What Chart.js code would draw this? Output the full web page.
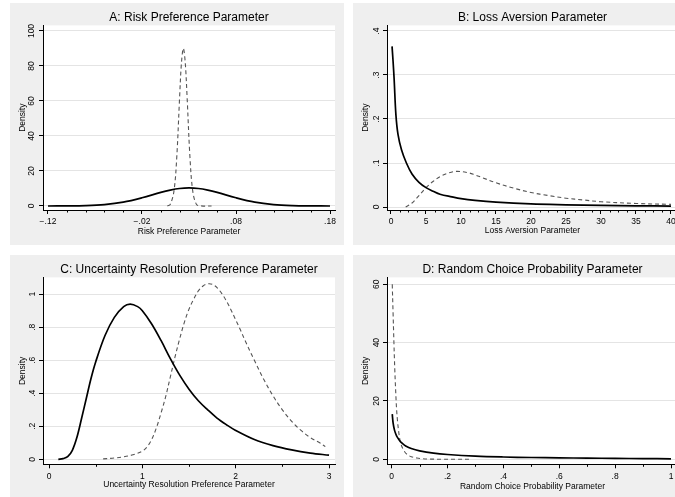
<!DOCTYPE html>
<html lang="en">
<head>
<meta charset="UTF-8">
<title>Parameter densities</title>
<script src="https://cdn.jsdelivr.net/npm/chart.js@4.4.1/dist/chart.umd.min.js"></script>
<style>
  html, body { margin: 0; padding: 0; background: #fff; }
  body { width: 675px; height: 497px; overflow: hidden; position: relative; }
  .panel { position: absolute; width: 334px; height: 242px; background: #efefef; }
  .panel canvas { display: block; }
</style>
</head>
<body>
<div class="panel" style="left:10px; top:3px"><canvas id="chartA" width="334" height="242"></canvas></div>
<div class="panel" style="left:353px; top:3px"><canvas id="chartB" width="334" height="242"></canvas></div>
<div class="panel" style="left:10px; top:255px"><canvas id="chartC" width="334" height="242"></canvas></div>
<div class="panel" style="left:353px; top:255px"><canvas id="chartD" width="334" height="242"></canvas></div>

<script>
// A: Risk preference
const aSolidX = [-0.12, -0.10, -0.08, -0.06, -0.04, -0.02, 0.00, 0.01, 0.02, 0.03, 0.04, 0.05, 0.06, 0.08, 0.10, 0.12, 0.14, 0.16, 0.18];
const aSolidY = [0.01, 0.05, 0.23, 0.82, 2.2, 4.7, 7.8, 9.1, 10.0, 10.3, 10.0, 9.1, 7.8, 4.7, 2.2, 0.82, 0.23, 0.05, 0.01];
const aDashX = [0.007, 0.010, 0.014, 0.017, 0.020, 0.022, 0.024, 0.026, 0.028, 0.031, 0.034, 0.038, 0.043, 0.054];
const aDashY = [0, 0.9, 8.5, 28, 62, 82, 90, 82, 62, 28, 8.5, 0.9, 0.05, 0];
const aXTicks = [-0.12, -0.02, 0.08, 0.18];
const aXLabels = ['\u2212.12', '\u2212.02', '.08', '.18'];
const aXMinor = [-0.10, -0.08, -0.06, -0.04, 0, 0.02, 0.04, 0.06, 0.10, 0.12, 0.14, 0.16];
const aYTicks = [0, 20, 40, 60, 80, 100];
const aYLabels = ['0', '20', '40', '60', '80', '100'];

// B: Loss aversion
const bSolidX = [0.15, 0.3, 0.45, 0.7, 1.0, 1.5, 2.2, 3, 4, 5, 6, 7, 8.7, 10, 12, 15, 20, 25, 30, 35, 40];
const bSolidY = [0.365, 0.33, 0.29, 0.21, 0.165, 0.13, 0.1, 0.075, 0.056, 0.044, 0.036, 0.029, 0.023, 0.019, 0.015, 0.011, 0.007, 0.005, 0.0035, 0.0028, 0.0022];
const bDashX = [2.1, 3, 3.5, 4, 5, 6, 7, 8, 9.3, 11, 12, 13, 15, 17.5, 20, 22.5, 25, 27.5, 30, 35, 40];
const bDashY = [0, 0.009, 0.017, 0.026, 0.044, 0.058, 0.069, 0.076, 0.081, 0.078, 0.073, 0.067, 0.055, 0.043, 0.033, 0.026, 0.020, 0.016, 0.012, 0.008, 0.006];
const bXTicks = [0, 5, 10, 15, 20, 25, 30, 35, 40];
const bXLabels = ['0', '5', '10', '15', '20', '25', '30', '35', '40'];
const bXMinor = [1.25, 2.5, 3.75, 6.25, 7.5, 8.75, 11.25, 12.5, 13.75, 16.25, 17.5, 18.75, 21.25, 22.5, 23.75,
                 26.25, 27.5, 28.75, 31.25, 32.5, 33.75, 36.25, 37.5, 38.75];
const bYTicks = [0, 0.1, 0.2, 0.3, 0.4];
const bYLabels = ['0', '.1', '.2', '.3', '.4'];

// C: Uncertainty resolution preference
const cSolidX = [0.1, 0.15, 0.2, 0.25, 0.3, 0.35, 0.4, 0.45, 0.5, 0.6, 0.7, 0.8, 0.87, 0.95, 1.0, 1.1, 1.2, 1.3, 1.4, 1.5, 1.6, 1.7, 1.8, 1.9, 2.0, 2.2, 2.4, 2.6, 2.8, 3.0];
const cSolidY = [0.0, 0.004, 0.016, 0.055, 0.135, 0.25, 0.37, 0.49, 0.59, 0.75, 0.86, 0.925, 0.94, 0.925, 0.9, 0.82, 0.72, 0.61, 0.51, 0.425, 0.355, 0.3, 0.25, 0.21, 0.175, 0.12, 0.083, 0.057, 0.038, 0.025];
const cDashX = [0.58, 0.7, 0.8, 0.9, 1.0, 1.05, 1.1, 1.15, 1.2, 1.25, 1.3, 1.35, 1.4, 1.45, 1.5, 1.55, 1.6, 1.65, 1.7, 1.75, 1.8, 1.85, 1.9, 1.95, 2.0, 2.05, 2.1, 2.2, 2.3, 2.4, 2.5, 2.6, 2.7, 2.8, 2.9, 2.96];
const cDashY = [0.003, 0.008, 0.015, 0.028, 0.05, 0.075, 0.12, 0.19, 0.28, 0.38, 0.5, 0.62, 0.73, 0.83, 0.91, 0.97, 1.02, 1.05, 1.063, 1.06, 1.04, 1.005, 0.96, 0.905, 0.845, 0.785, 0.72, 0.6, 0.485, 0.385, 0.3, 0.23, 0.175, 0.132, 0.1, 0.077];
const cXTicks = [0, 1, 2, 3];
const cXLabels = ['0', '1', '2', '3'];
const cXMinor = [0.5, 1.5, 2.5];
const cYTicks = [0, 0.2, 0.4, 0.6, 0.8, 1];
const cYLabels = ['0', '.2', '.4', '.6', '.8', '1'];

// D: Random choice probability
const dSolidX = [0.002, 0.005, 0.01, 0.015, 0.02, 0.03, 0.04, 0.05, 0.07, 0.1, 0.15, 0.2, 0.3, 0.4, 0.5, 0.6, 0.7, 0.8, 0.9, 1.0];
const dSolidY = [15.5, 12.5, 10, 8.6, 7.6, 6.2, 5.3, 4.6, 3.7, 2.9, 2.1, 1.65, 1.1, 0.8, 0.62, 0.5, 0.4, 0.32, 0.25, 0.18];
const dDashX = [0.002, 0.005, 0.008, 0.011, 0.014, 0.017, 0.02, 0.025, 0.03, 0.036, 0.045, 0.055, 0.07, 0.09, 0.11, 0.14, 0.18, 0.23, 0.284];
const dDashY = [60, 50, 40, 31, 24, 18, 14, 9.5, 6.5, 4.5, 2.8, 1.7, 0.9, 0.45, 0.22, 0.08, 0.03, 0.01, 0];
const dXTicks = [0, 0.2, 0.4, 0.6, 0.8, 1];
const dXLabels = ['0', '.2', '.4', '.6', '.8', '1'];
const dXMinor = [0.1, 0.3, 0.5, 0.7, 0.9];
const dYTicks = [0, 20, 40, 60];
const dYLabels = ['0', '20', '40', '60'];

const FONT = 'Liberation Sans, Arial, Helvetica, sans-serif';

function pts(xs, ys) {
  return xs.map((x, i) => ({ x: x, y: ys[i] }));
}

// white plot region on the gray graph region
const plotBg = {
  id: 'plotBg',
  beforeDraw(chart) {
    const a = chart.chartArea, ctx = chart.ctx;
    ctx.save();
    ctx.fillStyle = '#fff';
    ctx.fillRect(a.left, a.top, a.right - a.left, a.bottom - a.top);
    ctx.restore();
  }
};

// short unlabeled ticks on the x axis
const minorTicks = {
  id: 'minorTicks',
  afterDraw(chart, args, opts) {
    const xs = chart.scales.x, ctx = chart.ctx, b = chart.chartArea.bottom;
    ctx.save();
    ctx.strokeStyle = '#000';
    ctx.lineWidth = 1;
    ctx.beginPath();
    (opts.values || []).forEach(v => {
      const px = Math.round(xs.getPixelForValue(v)) + 0.5;
      ctx.moveTo(px, b);
      ctx.lineTo(px, b + 2.5);
    });
    ctx.stroke();
    ctx.restore();
  }
};

function makeChart(id, p) {
  new Chart(document.getElementById(id), {
    type: 'line',
    data: {
      datasets: [
        { data: pts(p.solidX, p.solidY), borderColor: '#000', borderWidth: 1.7,
          pointRadius: 0, tension: 0.35, fill: false },
        { data: pts(p.dashX, p.dashY), borderColor: '#555', borderWidth: 1.1, borderDash: [4, 3],
          pointRadius: 0, tension: 0.35, fill: false }
      ]
    },
    options: {
      responsive: false,
      animation: false,
      devicePixelRatio: 1,
      layout: { padding: { left: 0, right: 9, top: 0, bottom: 0 } },
      plugins: {
        legend: { display: false },
        tooltip: { enabled: false },
        title: {
          display: true, text: p.title, fullSize: false, color: '#000',
          font: { family: FONT, size: 12, weight: 'normal' },
          padding: { top: 7, bottom: 1 }
        },
        minorTicks: { values: p.xMinor }
      },
      scales: {
        x: {
          type: 'linear', min: p.xMin, max: p.xMax,
          afterBuildTicks: s => { s.ticks = p.xTicks.map(v => ({ value: v })); },
          afterFit: s => { s.height = p.xAxisH; },
          grid: { drawOnChartArea: false, tickLength: 4, tickColor: '#000' },
          border: { color: '#000', width: 1 },
          ticks: { autoSkip: false, maxRotation: 0, padding: 3, color: '#000',
                   font: { family: FONT, size: 8.5 },
                   callback: (v, i) => p.xLabels[i] },
          title: { display: true, text: p.xTitle, color: '#000',
                   font: { family: FONT, size: 8.5 }, padding: { top: 0, bottom: p.xTitlePad } }
        },
        y: {
          type: 'linear', min: p.yMin, max: p.yMax,
          afterBuildTicks: s => { s.ticks = p.yTicks.map(v => ({ value: v })); },
          afterFit: s => { s.width = p.yAxisW; },
          grid: { color: '#e4e4e4', tickLength: 4, tickColor: '#000' },
          border: { color: '#000', width: 1 },
          ticks: { autoSkip: false, minRotation: 90, maxRotation: 90, crossAlign: 'center',
                   padding: p.yTickPad, color: '#000', font: { family: FONT, size: 8.5 },
                   callback: (v, i) => p.yLabels[i] },
          title: { display: true, text: 'Density', color: '#000',
                   font: { family: FONT, size: 8.5 }, padding: { top: 8, bottom: 0 } }
        }
      }
    },
    plugins: [plotBg, minorTicks]
  });
}

makeChart('chartA', {
  title: 'A: Risk Preference Parameter', xTitle: 'Risk Preference Parameter',
  solidX: aSolidX, solidY: aSolidY, dashX: aDashX, dashY: aDashY,
  xMin: -0.1253, xMax: 0.1853, yMin: -2.29, yMax: 103.2,
  xTicks: aXTicks, xLabels: aXLabels, xMinor: aXMinor, yTicks: aYTicks, yLabels: aYLabels,
  yAxisW: 33, xAxisH: 35, yTickPad: 0, xTitlePad: 8
});

makeChart('chartB', {
  title: 'B: Loss Aversion Parameter', xTitle: 'Loss Aversion Parameter',
  solidX: bSolidX, solidY: bSolidY, dashX: bDashX, dashY: bDashY,
  xMin: -0.571, xMax: 41.0, yMin: -0.0068, yMax: 0.4127,
  xTicks: bXTicks, xLabels: bXLabels, xMinor: bXMinor, yTicks: bYTicks, yLabels: bYLabels,
  yAxisW: 34, xAxisH: 35, yTickPad: 3, xTitlePad: 9
});

makeChart('chartC', {
  title: 'C: Uncertainty Resolution Preference Parameter', xTitle: 'Uncertainty Resolution Preference Parameter',
  solidX: cSolidX, solidY: cSolidY, dashX: cDashX, dashY: cDashY,
  xMin: -0.0643, xMax: 3.064, yMin: -0.030, yMax: 1.102,
  xTicks: cXTicks, xLabels: cXLabels, xMinor: cXMinor, yTicks: cYTicks, yLabels: cYLabels,
  yAxisW: 33, xAxisH: 32.7, yTickPad: 3, xTitlePad: 7
});

makeChart('chartD', {
  title: 'D: Random Choice Probability Parameter', xTitle: 'Random Choice Probability Parameter',
  solidX: dSolidX, solidY: dSolidY, dashX: dDashX, dashY: dDashY,
  xMin: -0.0168, xMax: 1.025, yMin: -1.71, yMax: 62.37,
  xTicks: dXTicks, xLabels: dXLabels, xMinor: dXMinor, yTicks: dYTicks, yLabels: dYLabels,
  yAxisW: 34, xAxisH: 32.7, yTickPad: 2, xTitlePad: 5.6
});
</script>
</body>
</html>
